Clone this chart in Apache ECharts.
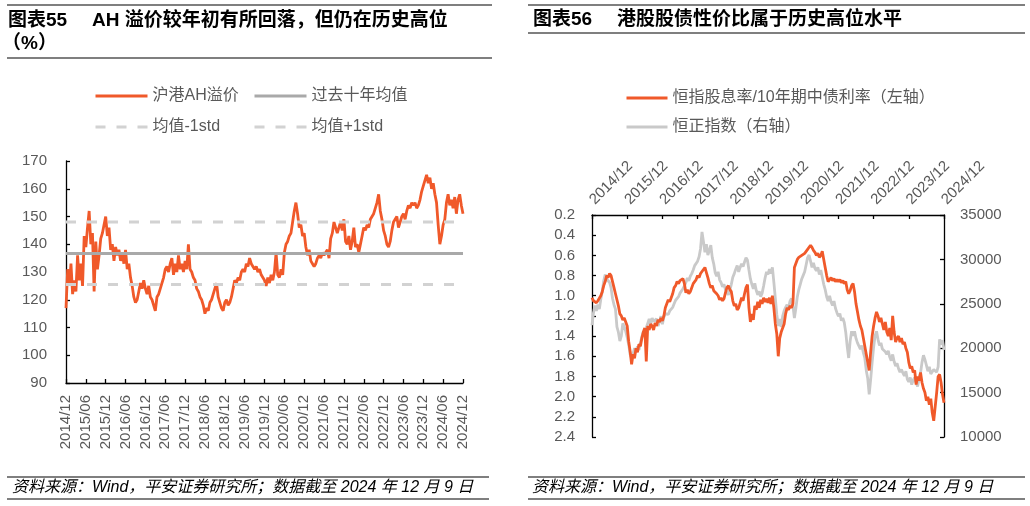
<!DOCTYPE html>
<html><head><meta charset="utf-8">
<script src="https://cdn.jsdelivr.net/npm/echarts@6/dist/echarts.min.js"></script>
<style>html,body{margin:0;padding:0;background:#fff}#c{width:1030px;height:506px}</style>
</head><body><div id="c"></div>
<script>
// ---------- data ----------
// x step: half a month, starting 2014/12
const STEP = 0.5;
const leftTickLabels = ['2014/12','2015/06','2015/12','2016/06','2016/12','2017/06','2017/12','2018/06','2018/12','2019/06','2019/12','2020/06','2020/12','2021/06','2021/12','2022/06','2022/12','2023/06','2023/12','2024/06','2024/12'];
const rightTickLabels = ['2014/12','2015/12','2016/12','2017/12','2018/12','2019/12','2020/12','2021/12','2022/12','2023/12','2024/12'];

const ahPremium = [117,131,125,133,122,127,123,136,127,133,
125,143,139,146,152,140,144,123,141,131,
136,142,144,147,150,143,146,138,140,134,
139,136,138,134,137,133,138,131,133,128,
125,121,119,120,123,126,124,127,124,122,
125,121,120,118,116,121,122,124,126,128,
131,132,130,133,135,129,133,130,136,131,
133,130,134,131,140,131,130,128,127,124,
123,121,120,118,115,117,116,119,120,122,
124,126,121,119,117,116,119,120,118,119,
121,124,127,126,128,127,130,131,130,133,
132,135,133,132,131,132,130,131,129,128,
127,125,128,126,129,127,130,137,129,128,
131,129,137,140,141,143,144,148,152,155,
151,146,147,143,144,139,136,138,134,133,
132,133,135,136,135,137,136,137,138,135,
142,144,148,146,144,146,148,145,149,141,
140,143,138,141,146,139,140,137,137,143,
146,145,147,146,149,150,151,153,155,158,
152,149,145,143,140,139,141,145,148,149,
150,146,148,150,151,149,152,154,153,155,
154,155,153,154,156,159,161,163,165,162,
164,160,162,158,155,147,140,143,147,149,
155,158,154,156,153,157,151,156,158,154,
151];
const ahMean = 136.7;
const ahMinus1Std = 125.5;
const ahPlus1Std = 148.0;

const dividendBondRatio = [1.02,1.05,1.04,1.07,1.05,1.06,1.00,0.96,0.90,0.86,
0.80,0.82,0.78,0.80,0.86,0.92,0.98,1.04,1.10,1.18,
1.20,1.24,1.22,1.26,1.30,1.45,1.55,1.68,1.58,1.62,
1.52,1.56,1.48,1.50,1.42,1.36,1.32,1.65,1.30,1.34,
1.28,1.30,1.34,1.27,1.30,1.24,1.26,1.22,1.25,1.20,
1.12,1.08,1.04,1.06,1.02,0.98,0.92,0.90,0.86,0.88,
0.85,0.84,0.83,0.88,0.97,0.94,0.98,0.96,0.92,0.88,
0.86,0.84,0.80,0.82,0.78,0.76,0.74,0.72,0.77,0.82,
0.88,0.92,0.90,0.95,0.96,0.98,1.00,1.04,1.02,1.05,
1.03,0.97,0.92,0.90,0.94,0.96,1.05,1.10,1.08,1.14,
1.12,1.07,1.02,1.05,0.98,0.92,0.89,1.12,1.26,1.18,
1.24,1.10,1.14,1.06,1.12,1.04,1.08,1.02,1.06,1.03,
1.07,1.02,1.08,1.00,1.12,1.28,1.38,1.60,1.42,1.36,
1.32,1.28,1.18,1.12,1.14,1.10,1.12,1.08,0.72,0.68,
0.64,0.62,0.63,0.60,0.61,0.58,0.57,0.54,0.52,0.50,
0.52,0.55,0.57,0.60,0.58,0.62,0.60,0.56,0.64,0.72,
0.80,0.86,0.84,0.82,0.85,0.83,0.86,0.84,0.86,0.84,
0.87,0.85,0.88,0.86,0.94,0.98,0.95,0.90,0.88,0.96,
1.08,1.16,1.24,1.30,1.34,1.42,1.50,1.58,1.66,1.74,
1.56,1.40,1.30,1.22,1.16,1.20,1.26,1.22,1.28,1.34,
1.26,1.36,1.40,1.32,1.44,1.20,1.36,1.46,1.42,1.40,
1.46,1.42,1.48,1.46,1.52,1.56,1.66,1.72,1.70,1.76,
1.74,1.88,1.80,1.84,1.76,1.86,1.92,1.96,2.04,2.00,
2.08,2.02,2.16,2.24,2.10,1.96,1.80,1.78,1.86,1.98,
2.06];

const hsiIndex = [22600,24000,24800,24200,24900,24400,25500,26400,27600,28300,
27800,28000,27400,26800,25600,24900,24400,22400,21800,20800,
21400,22800,22400,21900,21200,20400,19300,18900,19400,20000,
19600,20200,19800,20600,21300,21900,21600,22300,22800,23300,
22700,23400,23000,22800,23300,22500,23000,23600,22700,23500,
23900,24100,23800,24200,24000,24600,25000,25400,25300,25800,
26200,26000,26700,27000,27400,27900,27600,28100,28400,28800,
29300,29100,29800,30300,31200,33100,32000,30800,31700,30500,
31000,31600,30200,29500,28500,28100,28600,27700,27400,26900,
27200,26600,26400,26000,26500,27200,28000,28400,28900,29300,
28600,29100,29500,29200,29700,30200,29900,28800,27800,27200,
26700,27300,26500,26000,26400,25800,26200,27000,27900,28600,
28300,28900,28400,29100,27400,25600,23800,22500,23300,22400,
23600,24200,24600,24900,24500,25300,25600,24800,23400,24500,
25800,26600,27200,27800,28200,28600,29400,30200,30500,29800,
29100,29600,29000,28700,29100,28300,28800,28000,27200,26600,
25800,25300,25900,25200,24800,25300,24500,24000,23600,23900,
23100,23400,22900,21800,20200,18900,20800,21900,21400,21900,
21100,20600,20800,19900,20300,19500,18900,17500,16600,14800,
16500,18400,20100,21400,21900,21000,20300,20600,19900,20100,
19600,19300,19700,19000,18600,19300,18500,18000,18300,17700,
17300,17600,17200,16900,17400,16500,16200,16700,15900,16400,
16700,16100,15700,16600,17200,18400,19200,18700,18100,17400,
17900,17100,16900,17600,17800,17300,17900,21000,20400,20900,
19800];

// ---------- styles ----------
const FONT = '"Liberation Sans","Noto Sans CJK SC",sans-serif';
const ORANGE = '#F0592A';
const GREY_MEAN = '#A9A9A9';
const GREY_DASH = '#D2D2D2';
const GREY_HSI = '#C9C9C9';
const LABEL = '#595959';
const LAST = 120;

const toPairs = arr => arr.map((v, i) => [i * STEP, v]);
const flat = v => [[0, v], [LAST, v]];

function legendAt(name, left, top, w) {
  return {data: [name], left: left, top: top, itemWidth: w, itemHeight: 14, itemGap: 0, padding: 0,
    selectedMode: false,
    lineStyle: {width: 3},
    itemStyle: {color: 'rgba(0,0,0,0)', borderColor: 'rgba(0,0,0,0)', borderWidth: 0, opacity: 0},
    textStyle: {fontSize: 16, color: LABEL, fontFamily: FONT}};
}
function rule(x1, x2, y) {
  return {type: 'line', shape: {x1: x1, y1: y, x2: x2, y2: y}, style: {stroke: '#000', lineWidth: 1.2}, silent: true};
}
function txt(s, x, y, font, fill) {
  return {type: 'text', x: x, y: y, style: {text: s, font: font, fill: fill || '#000', verticalAlign: 'middle', align: 'left'}, silent: true};
}
const axisLineBlack = {show: true, lineStyle: {color: '#000', width: 1.3}};
const tickIn = {show: true, inside: true, length: 4, lineStyle: {color: '#000', width: 1.3}};
const lblStyle = {color: LABEL, fontSize: 15, fontFamily: FONT};

const chart = echarts.init(document.getElementById('c'), null, {renderer: 'canvas'});
chart.setOption({
  animation: false,
  backgroundColor: '#fff',
  textStyle: {fontFamily: FONT},
  grid: [
    {left: 66, top: 161, width: 397, height: 222, containLabel: false},
    {left: 592, top: 215, width: 352, height: 222, containLabel: false}
  ],
  legend: [
    legendAt('沪港AH溢价', 94, 88, 52),
    legendAt('过去十年均值', 253, 88, 52),
    legendAt('均值-1std', 94, 119, 52),
    legendAt('均值+1std', 253, 119, 52),
    legendAt('恒指股息率/10年期中债利率（左轴）', 625, 90, 41),
    legendAt('恒正指数（右轴）', 625, 119, 41)
  ],
  xAxis: [
    {type: 'value', gridIndex: 0, min: 0, max: LAST, interval: 6,
     axisLine: axisLineBlack, axisTick: tickIn, splitLine: {show: false},
     axisLabel: Object.assign({rotate: 90, margin: 12, showMinLabel: true, showMaxLabel: true,
       formatter: v => leftTickLabels[Math.round(v / 6)] || ''}, lblStyle)},
    {type: 'value', gridIndex: 1, position: 'top', min: 0, max: LAST, interval: 12,
     axisLine: axisLineBlack, axisTick: tickIn, splitLine: {show: false},
     axisLabel: Object.assign({rotate: -45, margin: 13, showMinLabel: true, showMaxLabel: true,
       formatter: v => rightTickLabels[Math.round(v / 12)] || ''}, lblStyle)}
  ],
  yAxis: [
    {type: 'value', gridIndex: 0, min: 90, max: 170, interval: 10,
     axisLine: axisLineBlack, axisTick: tickIn, splitLine: {show: false},
     axisLabel: Object.assign({margin: 19, showMinLabel: true, showMaxLabel: true}, lblStyle)},
    {type: 'value', gridIndex: 1, position: 'left', inverse: true, min: 0.2, max: 2.4, interval: 0.2,
     axisLine: axisLineBlack, axisTick: tickIn, splitLine: {show: false},
     axisLabel: Object.assign({margin: 17, showMinLabel: true, showMaxLabel: true,
       formatter: v => (+v).toFixed(1)}, lblStyle)},
    {type: 'value', gridIndex: 1, position: 'right', min: 10000, max: 35000, interval: 5000,
     axisLine: axisLineBlack, axisTick: tickIn, splitLine: {show: false},
     axisLabel: Object.assign({margin: 16, showMinLabel: true, showMaxLabel: true,
       formatter: v => String(Math.round(v))}, lblStyle)}
  ],
  series: [
    {name: '沪港AH溢价', type: 'line', xAxisIndex: 0, yAxisIndex: 0, data: toPairs(ahPremium),
     symbol: 'none', z: 2, color: ORANGE, lineStyle: {color: ORANGE, width: 2.8}},
    {name: '过去十年均值', type: 'line', xAxisIndex: 0, yAxisIndex: 0, data: flat(ahMean),
     symbol: 'none', z: 3, color: GREY_MEAN, lineStyle: {color: GREY_MEAN, width: 3}},
    {name: '均值-1std', type: 'line', xAxisIndex: 0, yAxisIndex: 0, data: flat(ahMinus1Std),
     symbol: 'none', z: 3, color: GREY_DASH, lineStyle: {color: GREY_DASH, width: 3, type: [10, 11]}},
    {name: '均值+1std', type: 'line', xAxisIndex: 0, yAxisIndex: 0, data: flat(ahPlus1Std),
     symbol: 'none', z: 3, color: GREY_DASH, lineStyle: {color: GREY_DASH, width: 3, type: [10, 11]}},
    {name: '恒正指数（右轴）', type: 'line', xAxisIndex: 1, yAxisIndex: 2, data: toPairs(hsiIndex),
     symbol: 'none', z: 2, color: GREY_HSI, lineStyle: {color: GREY_HSI, width: 2.8}},
    {name: '恒指股息率/10年期中债利率（左轴）', type: 'line', xAxisIndex: 1, yAxisIndex: 1, data: toPairs(dividendBondRatio),
     symbol: 'none', z: 3, color: ORANGE, lineStyle: {color: ORANGE, width: 2.8}}
  ],
  graphic: [
    rule(7, 492, 5), rule(7, 492, 58),
    txt('图表55', 8, 21, 'bold 19px ' + FONT),
    txt('AH 溢价较年初有所回落，但仍在历史高位', 92, 21, 'bold 19px ' + FONT),
    txt('（%）', 2, 44, 'bold 19px ' + FONT),
    rule(528, 1025, 5), rule(528, 1025, 33),
    txt('图表56', 533, 20, 'bold 19px ' + FONT),
    txt('港股股债性价比属于历史高位水平', 617, 20, 'bold 19px ' + FONT),
    rule(7, 489, 477), rule(7, 489, 499),
    txt('资料来源：Wind，平安证券研究所；数据截至 2024 年 12 月 9 日', 12, 488, 'italic 16px ' + FONT),
    rule(528, 1025, 477), rule(528, 1025, 499),
    txt('资料来源：Wind，平安证券研究所；数据截至 2024 年 12 月 9 日', 532, 488, 'italic 16px ' + FONT)
  ]
});
</script>
</body></html>
